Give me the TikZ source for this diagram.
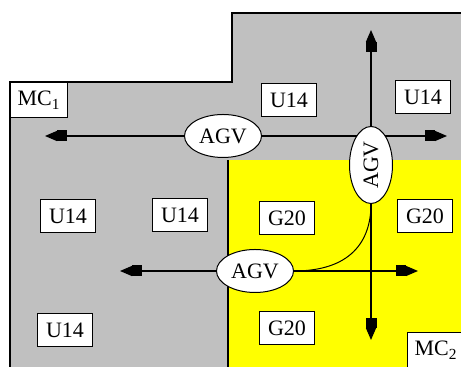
\documentclass[tikz,border=0pt]{standalone}
\usepackage{fontspec}
\setmainfont{Liberation Serif}
\usetikzlibrary{shapes.geometric,arrows.meta}
\definecolor{mcgray}{RGB}{192,192,192}
\definecolor{mcyellow}{RGB}{255,255,0}
\begin{document}
\begin{tikzpicture}[x=0.5pt,y=0.5pt,line width=0.6pt,
    font=\fontsize{11}{13}\selectfont,
    cell/.style={draw,fill=white,minimum width=27.5pt,minimum height=16.5pt,inner sep=0pt},
    agv/.style={ellipse,draw,fill=white,line width=0.5pt,minimum width=38.5pt,minimum height=21.5pt,inner sep=0pt},
    move/.style={-{Rectangle[length=5pt,width=5.5pt]Triangle[length=6pt,width=5pt]}}]
  \useasboundingbox (0,0) rectangle (461,367);
  \fill[mcgray] (10,0) -- (10,285) -- (232,285) -- (232,354) -- (461,354) -- (461,0) -- cycle;
  \draw (10,0) -- (10,285) -- (232,285) -- (232,354) -- (461,354);
  \fill[mcyellow] (228,0) rectangle (461,207);
  \draw (228,0) -- (228,207);
  \node[cell,anchor=north west,minimum width=28.5pt,minimum height=17.5pt] (MCa) at (10,285) {MC\textsubscript{1}};
  \node[cell,anchor=north west,minimum width=28.5pt,minimum height=17.5pt] (MCb) at (407,35) {MC\textsubscript{2}};
  \node[cell] (U1) at (68,151) {U14};
  \node[cell] (U2) at (180,152) {U14};
  \node[cell] (U3) at (65,37) {U14};
  \node[cell] (U4) at (289,267) {U14};
  \node[cell] (U5) at (423,270) {U14};
  \node[cell] (G1) at (287,149) {G20};
  \node[cell] (G2) at (425,151) {G20};
  \node[cell] (G3) at (287,39) {G20};
  \coordinate (W1) at (45,231);
  \coordinate (E1) at (447,231);
  \coordinate (N2) at (371,337);
  \coordinate (S2) at (371,27);
  \coordinate (W3) at (120,96);
  \coordinate (E3) at (418,96);
  \node[agv] (A1) at (223,231) {AGV};
  \node[agv] (A3) at (255,96) {AGV};
  \draw[move] (A1.west) -- (W1);
  \draw[move] (A1.east) -- (E1);
  \draw[move] (A3.west) -- (W3);
  \draw[move] (A3.east) -- (E3);
  \node[agv,rotate=90] (A2) at (371,202) {AGV};
  \draw[move] (A2.east) -- (N2);
  \draw[move] (A2.west) -- (S2);
  \draw[line width=0.5pt] (A3.east) .. controls (350,96) and (371,125) .. (A2.west);
\end{tikzpicture}
\end{document}
